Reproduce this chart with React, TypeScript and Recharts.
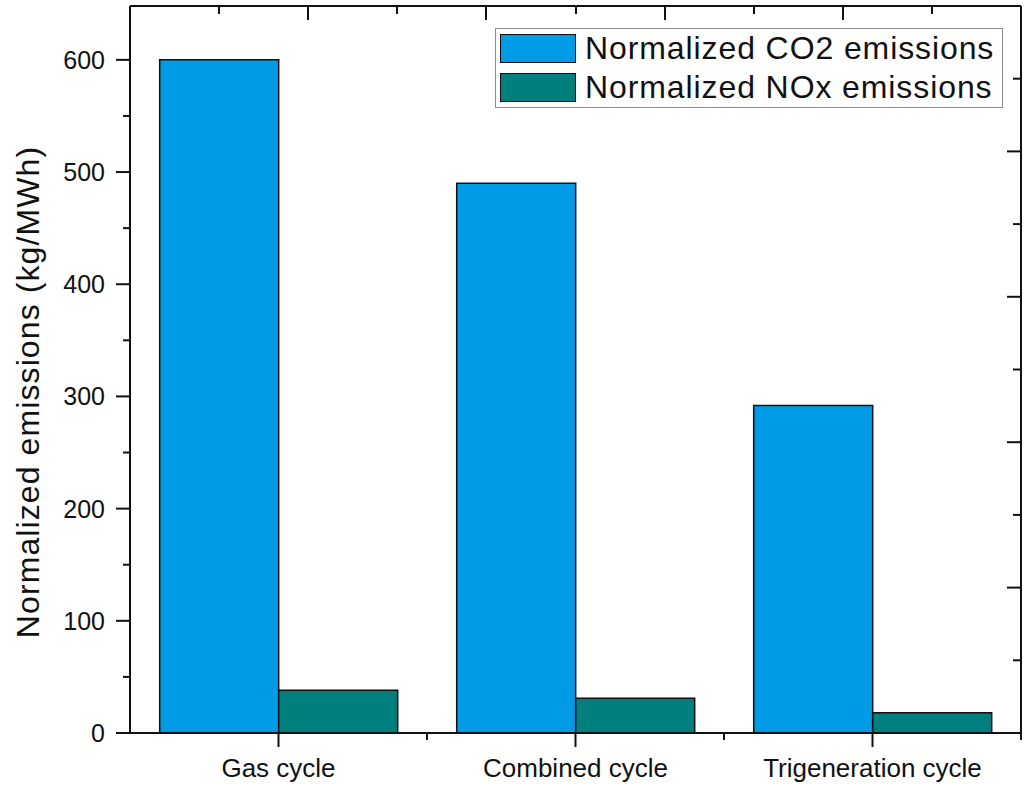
import { Bar, BarChart, Legend, ReferenceLine, XAxis, YAxis } from "recharts";

const categories = ["Gas cycle", "Combined cycle", "Trigeneration cycle"];
const co2Emissions = [600, 490, 292];
const noxEmissions = [38, 31, 18];
const seriesNames = ["Normalized CO2 emissions", "Normalized NOx emissions"];
const seriesColors = ["#009BE6", "#007F7F"];
const yTicks = [0, 50, 100, 150, 200, 250, 300, 350, 400, 450, 500, 550, 600];
const yMax = 648;
// the top and right frame edges carry their own unlabeled 0..1 ticks
const frameTicks = [0, 0.1, 0.2, 0.3, 0.4, 0.5, 0.6, 0.7, 0.8, 0.9, 1];

const data = categories.map((name, i) => ({
  name,
  co2: co2Emissions[i],
  nox: noxEmissions[i],
}));

const W = 1024;
const H = 785;
const MARGIN = { top: 6, right: 3, bottom: 0, left: 0 };
const Y_AXIS_W = 130;
const X_AXIS_H = 52;
const PLOT_LEFT = MARGIN.left + Y_AXIS_W;
const PLOT_TOP = MARGIN.top;
const PLOT_W = W - MARGIN.right - PLOT_LEFT;
const BAND = PLOT_W / categories.length;

const FONT = '"Liberation Sans", Arial, sans-serif';
const INK = "#111";

const isMajorFrame = (t: number) => Math.round(t * 10) % 2 === 0;

function LeftTick({ x, y, payload }: any) {
  const major = payload.value % 100 === 0;
  return (
    <g>
      <line x1={x - (major ? 14 : 7)} x2={x} y1={y} y2={y} stroke={INK} strokeWidth={2} />
      {major && (
        <text x={x - 25} y={y} textAnchor="end" dominantBaseline="central" fontSize={25} fontFamily={FONT} fill={INK}>
          {payload.value}
        </text>
      )}
    </g>
  );
}

function BottomTick({ x, y, payload }: any) {
  return (
    <g>
      <line x1={x} x2={x} y1={y} y2={y + 14} stroke={INK} strokeWidth={2} />
      <line x1={x + BAND / 2} x2={x + BAND / 2} y1={y} y2={y + 7} stroke={INK} strokeWidth={2} />
      <text x={x} y={y + 44} textAnchor="middle" fontSize={26} fontFamily={FONT} fill={INK}>
        {payload.value}
      </text>
    </g>
  );
}

function RightTick({ x, y, payload }: any) {
  return (
    <line x1={x - (isMajorFrame(payload.value) ? 14 : 8)} x2={x} y1={y} y2={y} stroke={INK} strokeWidth={2} />
  );
}

// inward ticks hanging from the top edge of the frame
function TopTicks() {
  return (
    <div style={{ position: "absolute", left: 0, top: 0, width: W, height: 30, zIndex: 10, pointerEvents: "none" }}>
      {frameTicks.map((t) => (
        <div
          key={t}
          style={{
            position: "absolute",
            left: PLOT_LEFT + t * PLOT_W - 1,
            top: PLOT_TOP,
            width: 2,
            height: isMajorFrame(t) ? 14 : 8,
            background: INK,
          }}
        />
      ))}
    </div>
  );
}

function LegendBox() {
  return (
    <div
      style={{
        width: 508,
        height: 80,
        boxSizing: "border-box",
        border: "1px solid #8c8c8c",
        background: "#fff",
        padding: "0 4px",
      }}
    >
      {seriesNames.map((name, i) => (
        <div key={name} style={{ display: "flex", alignItems: "center", height: 39 }}>
          <span
            style={{
              display: "inline-block",
              flex: "none",
              width: 76,
              height: 29,
              boxSizing: "border-box",
              background: seriesColors[i],
              border: `1.5px solid ${INK}`,
              marginRight: 9,
            }}
          />
          <span style={{ fontSize: 32, letterSpacing: 0.9, fontFamily: FONT, color: INK, whiteSpace: "nowrap" }}>
            {name}
          </span>
        </div>
      ))}
    </div>
  );
}

const axisLine = { stroke: INK, strokeWidth: 2 };

export default function App() {
  return (
    <div style={{ position: "absolute", left: 0, top: 0, width: W, height: H, background: "#fff" }}>
      <BarChart width={W} height={H} data={data} margin={MARGIN} barCategoryGap="10%" barGap={0}>
        <XAxis
          xAxisId="cat"
          dataKey="name"
          height={X_AXIS_H}
          tickSize={0}
          tickMargin={0}
          tickLine={false}
          tick={<BottomTick />}
          axisLine={axisLine}
          interval={0}
        />
        <YAxis
          yAxisId="val"
          type="number"
          domain={[0, yMax]}
          ticks={yTicks}
          allowDataOverflow
          width={Y_AXIS_W}
          tickSize={0}
          tickMargin={0}
          tickLine={false}
          tick={<LeftTick />}
          axisLine={axisLine}
          interval={0}
          label={{
            content: () => (
              <text
                x={28}
                y={392}
                transform="rotate(-90 28 392)"
                textAnchor="middle"
                dominantBaseline="central"
                fontSize={32}
                letterSpacing={1.1}
                fontFamily={FONT}
                fill={INK}
              >
                Normalized emissions (kg/MWh)
              </text>
            ),
          }}
        />
        <YAxis
          yAxisId="frame"
          orientation="right"
          type="number"
          domain={[0, 1]}
          ticks={frameTicks}
          allowDataOverflow
          mirror
          width={1}
          tickSize={0}
          tickMargin={0}
          tickLine={false}
          tick={<RightTick />}
          axisLine={axisLine}
          interval={0}
        />
        <ReferenceLine xAxisId="cat" yAxisId="val" y={yMax} stroke={INK} strokeWidth={2} ifOverflow="extendDomain" />
        <Legend
          layout="horizontal"
          verticalAlign="middle"
          content={() => <LegendBox />}
          wrapperStyle={{ position: "absolute", left: 495, top: 28, width: "auto", height: "auto" }}
        />
        <Bar
          xAxisId="cat"
          yAxisId="val"
          dataKey="co2"
          name={seriesNames[0]}
          fill={seriesColors[0]}
          stroke={INK}
          strokeWidth={1.5}
          isAnimationActive={false}
        />
        <Bar
          xAxisId="cat"
          yAxisId="val"
          dataKey="nox"
          name={seriesNames[1]}
          fill={seriesColors[1]}
          stroke={INK}
          strokeWidth={1.5}
          isAnimationActive={false}
        />
      </BarChart>
      <TopTicks />
    </div>
  );
}
